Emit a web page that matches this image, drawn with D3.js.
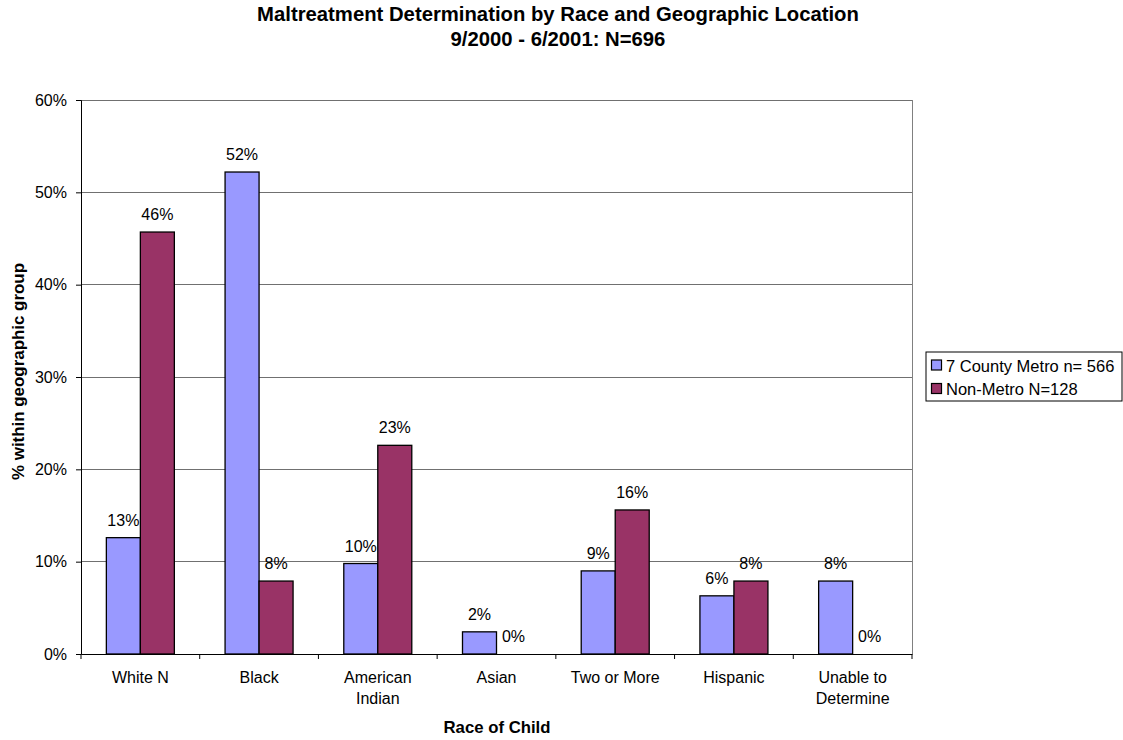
<!DOCTYPE html>
<html><head><meta charset="utf-8">
<script src="https://cdn.jsdelivr.net/npm/d3@7"></script>
<style>body{margin:0;background:#fff}svg{display:block;font-family:"Liberation Sans",Arial,sans-serif}</style>
</head><body><svg id="c" width="1123" height="740"></svg>
<script>
const categories = ["White N","Black","American Indian","Asian","Two or More","Hispanic","Unable to Determine"];
const categoryLines = [["White N"],["Black"],["American","Indian"],["Asian"],["Two or More"],["Hispanic"],["Unable to","Determine"]];
const seriesNames = ["7 County Metro n= 566","Non-Metro N=128"];
const metro = [12.6, 52.2, 9.8, 2.4, 9.0, 6.3, 7.9];
const nonMetro = [45.7, 7.9, 22.6, 0, 15.6, 7.9, 0];
const metroLabels = ["13%","52%","10%","2%","9%","6%","8%"];
const nonMetroLabels = ["46%","8%","23%","0%","16%","8%","0%"];
const yTicks = [0,10,20,30,40,50,60];
const colors = ["#9999FF","#993366"];

const svg = d3.select("#c");
const L=81, R=912, T=100, B=654;
const x = d3.scaleBand().domain(categories).range([L,R]).paddingInner(0).paddingOuter(0);
const y = d3.scaleLinear().domain([0,60]).range([B,T]);
const barW = 34;
const x1 = d3.scaleBand().domain([0,1]).range([0,barW*2]);
const FS = "16px";

// gridlines
svg.append("g").selectAll("line").data(yTicks.filter(d=>d>0)).join("line")
  .attr("x1",L).attr("x2",R).attr("y1",d=>y(d)).attr("y2",d=>y(d))
  .attr("stroke","#707070").attr("stroke-width",1).attr("shape-rendering","crispEdges");
// right border
svg.append("line").attr("x1",R).attr("x2",R).attr("y1",T).attr("y2",B)
  .attr("stroke","#808080").attr("shape-rendering","crispEdges");

const data = [metro, nonMetro];
const labels = [metroLabels, nonMetroLabels];
data.forEach((vals,si)=>{
  const g = svg.append("g");
  vals.forEach((v,i)=>{
    const bx = x(categories[i]) + x.bandwidth()/2 - barW + x1(si);
    if (v>0) g.append("rect").attr("x",bx).attr("y",y(v)).attr("width",barW).attr("height",y(0)-y(v))
      .attr("fill",colors[si]).attr("stroke","#000").attr("stroke-width",1.3);
    g.append("text").attr("x",bx+barW/2).attr("y",y(v)-12).attr("text-anchor","middle")
      .attr("font-size",FS).attr("fill","#000").text(labels[si][i]);
  });
});

// y axis
const yAxis = d3.axisLeft(y).tickValues(yTicks).tickFormat(d=>d+"%").tickSize(5).tickPadding(9);
const ya = svg.append("g").attr("transform",`translate(${L},0)`).call(yAxis);
ya.select(".domain").attr("stroke","#000");
ya.selectAll("text").attr("font-size",FS).attr("fill","#000").attr("font-family","Liberation Sans, Arial, sans-serif");

// x axis
const xAxis = d3.axisBottom(x).tickSize(0).tickFormat("");
const xa = svg.append("g").attr("transform",`translate(0,${B})`).call(xAxis);
xa.select(".domain").attr("stroke","#000");
xa.selectAll(".tick").remove();
const bounds = categories.map(c=>x(c)).concat([R]);
svg.append("g").selectAll("line").data(bounds).join("line")
  .attr("x1",d=>d).attr("x2",d=>d).attr("y1",B).attr("y2",B+5).attr("stroke","#000");
const xl = svg.append("g");
categories.forEach((c,i)=>{
  const t = xl.append("text").attr("x",x(c)+x.bandwidth()/2).attr("y",683)
    .attr("text-anchor","middle").attr("font-size",FS).attr("fill","#000");
  categoryLines[i].forEach((ln,j)=>t.append("tspan").attr("x",x(c)+x.bandwidth()/2).attr("dy",j?21:0).text(ln));
});

// titles
svg.append("text").attr("x",558).attr("y",21).attr("text-anchor","middle").attr("font-weight","bold")
  .attr("font-size","20.3px").text("Maltreatment Determination by Race and Geographic Location");
svg.append("text").attr("x",558).attr("y",46).attr("text-anchor","middle").attr("font-weight","bold")
  .attr("font-size","20.3px").text("9/2000 - 6/2001: N=696");
svg.append("text").attr("x",497).attr("y",733).attr("text-anchor","middle").attr("font-weight","bold")
  .attr("font-size","16.5px").attr("textLength",107).attr("lengthAdjust","spacingAndGlyphs").text("Race of Child");
svg.append("text").attr("transform","translate(23.5,371.5) rotate(-90)").attr("text-anchor","middle").attr("font-weight","bold")
  .attr("font-size","16.5px").attr("textLength",217).attr("lengthAdjust","spacingAndGlyphs").text("% within geographic group");

// legend
const lg = svg.append("g");
lg.append("rect").attr("x",926).attr("y",352).attr("width",196).attr("height",49)
  .attr("fill","#fff").attr("stroke","#000").attr("stroke-width",1);
seriesNames.forEach((n,i)=>{
  const yy = 365.5 + i*23.5;
  lg.append("rect").attr("x",931.5).attr("y",yy-5.5).attr("width",10).attr("height",10)
    .attr("fill",colors[i]).attr("stroke","#000").attr("stroke-width",1.2);
  lg.append("text").attr("x",946).attr("y",yy+6).attr("font-size","16.5px").attr("fill","#000").text(n);
});
</script></body></html>
